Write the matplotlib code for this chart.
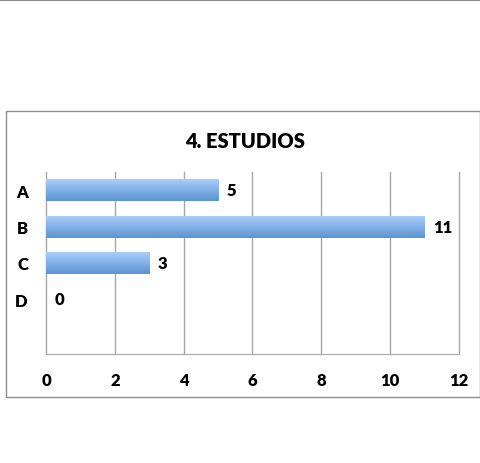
import numpy as np
import matplotlib.pyplot as plt
from matplotlib.patches import Rectangle
from matplotlib.lines import Line2D
from matplotlib.colors import LinearSegmentedColormap

# --- data ---
categories = ["A", "B", "C", "D", ""]
values = [5, 11, 3, 0, None]
title = "4. ESTUDIOS"
xticks = [0, 2, 4, 6, 8, 10, 12]

plt.rcParams['font.family'] = ['Lato', 'DejaVu Sans']
W = "heavy"

fig = plt.figure(figsize=(4.81, 4.64), dpi=100)

# outer frame and top rule
fig.add_artist(Rectangle((6 / 481, 1 - 398 / 464), 474 / 481, 286 / 464,
                         transform=fig.transFigure, fill=False,
                         edgecolor="#8c8c8c", lw=1.0))
fig.add_artist(Line2D([0, 1], [0.998, 0.998], transform=fig.transFigure,
                      color="#8c8c8c", lw=1.5))

ax = fig.add_axes([46 / 481, 1 - 355 / 464, 413 / 481, 182 / 464])

grad = LinearSegmentedColormap.from_list("bar", ["#a9cdf9", "#5a94d4"])
ypos = np.arange(len(categories))
h = 0.6
for y, v in zip(ypos, values):
    if v is None:
        continue
    bar = ax.barh(y, v, height=h, color="#7fb0ec", edgecolor="none", zorder=2)[0]
    img = ax.imshow(np.linspace(0, 1, 50).reshape(-1, 1), cmap=grad,
                    extent=(0, max(v, 1e-6), y + h / 2, y - h / 2),
                    aspect="auto", zorder=3, origin="upper")
    img.set_clip_path(bar)
    ax.text(v + 0.25, y, str(v), va="center", ha="left",
            fontsize=12, fontweight=W, color="black", zorder=4)

ax.set_xlim(0, 12)
ax.set_ylim(len(categories) - 0.5, -0.5)
ax.set_xticks(xticks)
ax.set_xticklabels([str(t) for t in xticks], fontsize=12, fontweight=W)
ax.set_yticks(ypos)
ax.set_yticklabels(categories, fontsize=12, fontweight=W)
ax.tick_params(axis="both", length=0)
ax.tick_params(axis="x", pad=13)
ax.tick_params(axis="y", pad=13)
for t in xticks:
    ax.axvline(t, color="#a6a6a6", lw=1.0, zorder=0, clip_on=False)
for s in ["top", "right", "left"]:
    ax.spines[s].set_visible(False)
ax.spines["bottom"].set_color("#a6a6a6")

fig.text(245 / 481, 1 - 141 / 464, title, ha="center", va="center",
         fontsize=14.5, fontweight=W)

fig.savefig("out.png", dpi=100)
